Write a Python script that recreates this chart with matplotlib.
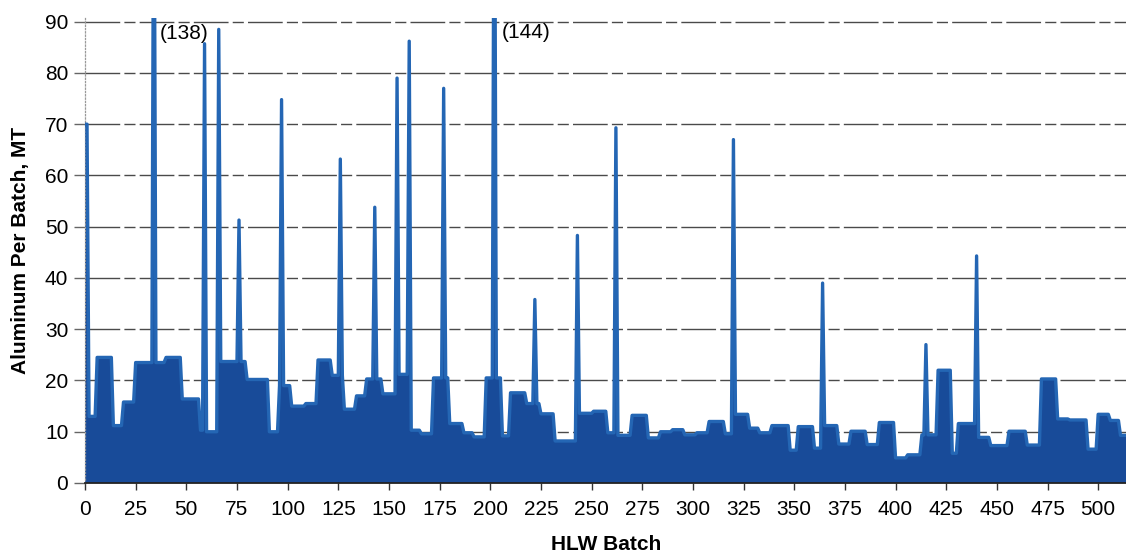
import numpy as np
import matplotlib
matplotlib.use("Agg")
import matplotlib.pyplot as plt

# ---- data ----
# step levels: batch where each level starts, and the level (MT)
run_starts = [0, 2, 6, 14, 19, 25, 40, 48, 57, 60, 67, 80, 91, 96, 102, 109, 115,
              122, 128, 134, 139, 147, 155, 161, 166, 172, 180, 187, 192, 198, 206,
              210, 218, 225, 232, 244, 251, 258, 263, 270, 278, 284, 290, 296, 302,
              308, 316, 321, 328, 333, 339, 348, 352, 360, 365, 372, 378, 386, 392,
              400, 406, 413, 421, 428, 431, 441, 447, 456, 465, 472, 480, 486, 495,
              500, 506, 511]
run_levels = [70, 13, 24.5, 11.2, 15.8, 23.5, 24.5, 16.4, 10.3, 10.0, 23.7, 20.2,
              10.0, 19.0, 15.0, 15.5, 24.0, 21.0, 14.4, 17.0, 20.3, 17.4, 21.2, 10.3,
              9.6, 20.5, 11.6, 9.8, 9.0, 20.5, 9.2, 17.6, 15.5, 13.5, 8.2, 13.6, 14.0,
              9.8, 9.3, 13.2, 8.8, 10.0, 10.4, 9.4, 9.8, 12.0, 9.6, 13.4, 10.7, 9.8,
              11.2, 6.4, 11.0, 6.8, 11.2, 7.6, 10.1, 7.5, 11.8, 4.9, 5.5, 9.4, 22.0,
              5.8, 11.6, 8.9, 7.3, 10.1, 7.4, 20.3, 12.5, 12.3, 6.6, 13.4, 12.2, 9.3]
last_batch = 514

# single-batch spikes
spike_batches = [34, 59, 66, 76, 97, 126, 143, 154, 160, 177, 202, 222, 243, 262,
                 320, 364, 415, 440]
spike_values = [138, 85.7, 88.5, 51.3, 74.8, 63.2, 53.8, 79.0, 86.2, 77.0, 144,
                35.8, 48.3, 69.3, 67.0, 39.0, 27.0, 44.3]

x_ticks = list(range(0, 501, 25))
y_ticks = list(range(0, 91, 10))

# build series
batches = np.arange(0, last_batch + 1)
values = np.zeros(len(batches))
ends = run_starts[1:] + [last_batch + 1]
for s, e, v in zip(run_starts, ends, run_levels):
    values[s:e] = v
for b, v in zip(spike_batches, spike_values):
    values[b] = v

plt.rcParams['font.family'] = ['Liberation Sans', 'DejaVu Sans']

fig = plt.figure(figsize=(11.26, 5.57), dpi=100)
ax = fig.add_axes([85 / 1126, 1 - 483 / 557, 0.925, (483 - 17.6) / 557])

fill_col = '#184b99'
line_col = '#2466b4'
ax.fill_between(batches, values, 0, color=fill_col, lw=0, zorder=2)
ax.plot(batches, values, color=line_col, lw=2.4, zorder=3, solid_joinstyle='round')

ax.set_xlim(0, last_batch)
ax.set_ylim(0, 90.8)
ax.set_xticks(x_ticks)
ax.set_yticks(y_ticks)

for yv in y_ticks[1:]:
    ax.axhline(yv, color='#4a4a4a', lw=1.0, ls=(0, (25, 3, 8, 3)), zorder=1)

for s in ['top', 'right']:
    ax.spines[s].set_visible(False)
ax.spines['left'].set_color('#999999')
ax.spines['left'].set_linestyle(':')
ax.spines['left'].set_linewidth(0.9)
ax.spines['bottom'].set_color('#222222')
ax.spines['bottom'].set_linewidth(1.3)
ax.spines['bottom'].set_zorder(4)

ax.tick_params(axis='x', direction='out', length=5, width=1, colors='#333333',
               labelsize=15, pad=7, labelcolor='black')
ax.tick_params(axis='y', direction='out', length=8, width=1, colors='#666666',
               labelsize=15, pad=4, labelcolor='black')

ax.set_xlabel('HLW Batch', fontsize=15, fontweight='bold', labelpad=12, color='black')
fig.text(21 / 1126, 1 - 250 / 557, 'Aluminum Per Batch, MT', rotation=90,
         fontsize=15, fontweight='bold', ha='center', va='center', color='black')

ax.text(37, 87.7, '(138)', fontsize=15, ha='left', va='center', color='black')
ax.text(205.5, 87.9, '(144)', fontsize=15, ha='left', va='center', color='black')

fig.savefig('out.png', dpi=100)
